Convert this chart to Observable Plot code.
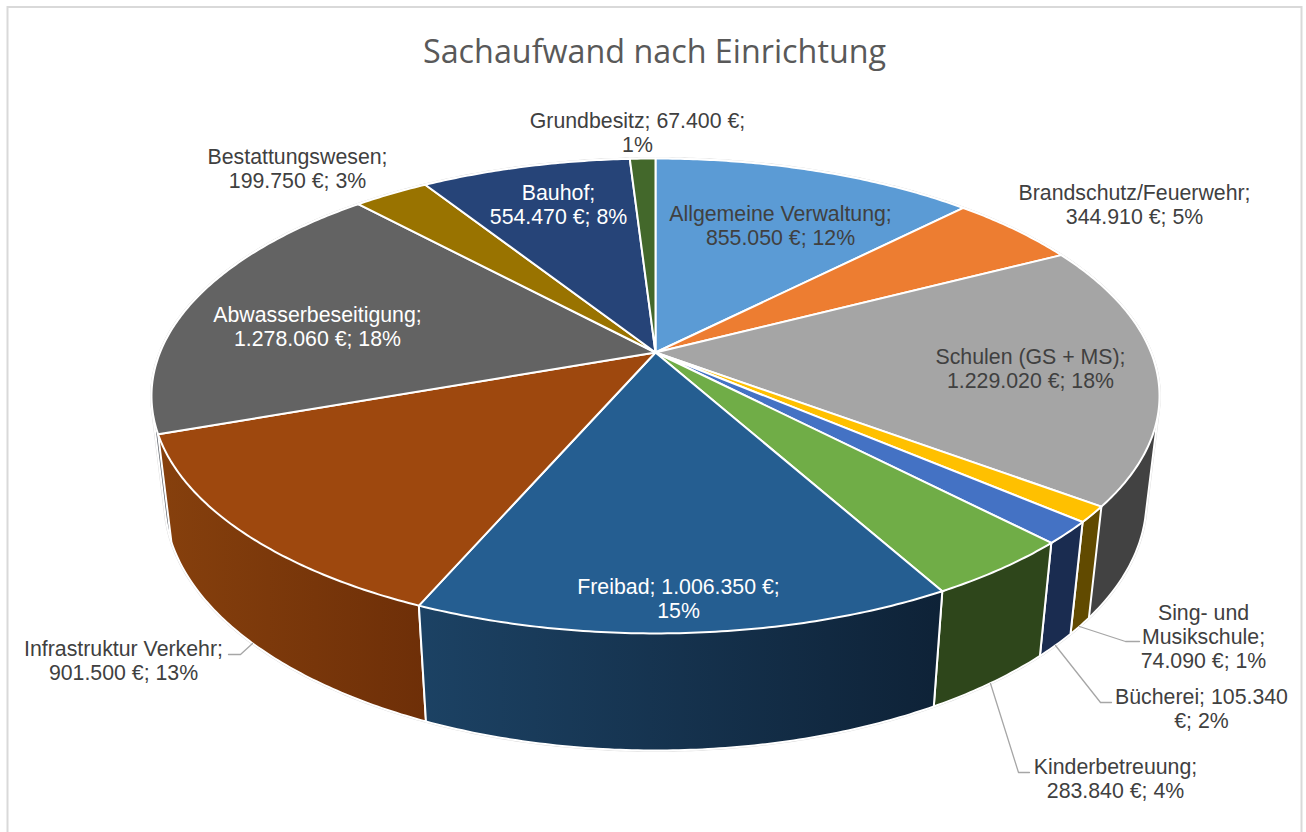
<!DOCTYPE html>
<html lang="de">
<head>
<meta charset="utf-8">
<title>Sachaufwand nach Einrichtung</title>
<script src="https://cdn.jsdelivr.net/npm/d3@7"></script>
<script src="https://cdn.jsdelivr.net/npm/@observablehq/plot@0.6"></script>
<style>
html,body{margin:0;padding:0;background:#fff;overflow:hidden}
svg{display:block}
</style>
</head>
<body>
<div id="chart"></div>
<script>
const titleText = "Sachaufwand nach Einrichtung";
const categories = ["Allgemeine Verwaltung","Brandschutz/Feuerwehr","Schulen (GS + MS)","Sing- und Musikschule","Bücherei","Kinderbetreuung","Freibad","Infrastruktur Verkehr","Abwasserbeseitigung","Bestattungswesen","Bauhof","Grundbesitz"];
const amounts = [855050,344910,1229020,74090,105340,283840,1006350,901500,1278060,199750,554470,67400];
const percents = [12,5,18,1,2,4,15,13,18,3,8,1];
const topColors = ["#5B9BD5","#ED7D31","#A5A5A5","#FFC000","#4472C4","#70AD47","#255E91","#9E480E","#636363","#997300","#264478","#43682B"];
const sideColorsStart = ["#375d80","#8e4b1d","#424242","#614a00","#1a2c50","#2e461b","#1c4264","#86400d","#5a5f66","#5c4500","#172948","#283e1a"];
const sideColorsEnd = ["#375d80","#8e4b1d","#424242","#614a00","#1a2c50","#2e461b","#0e2237","#6e2f08","#5a5f66","#5c4500","#172948","#283e1a"];

// label layout: line breaks, centre x, centre y, text colour
const labelText = [
  "Allgemeine Verwaltung;\n855.050 €; 12%",
  "Brandschutz/Feuerwehr;\n344.910 €; 5%",
  "Schulen (GS + MS);\n1.229.020 €; 18%",
  "Sing- und\nMusikschule;\n74.090 €; 1%",
  "Bücherei; 105.340\n€; 2%",
  "Kinderbetreuung;\n283.840 €; 4%",
  "Freibad; 1.006.350 €;\n15%",
  "Infrastruktur Verkehr;\n901.500 €; 13%",
  "Abwasserbeseitigung;\n1.278.060 €; 18%",
  "Bestattungswesen;\n199.750 €; 3%",
  "Bauhof;\n554.470 €; 8%",
  "Grundbesitz; 67.400 €;\n1%"
];
const labelX = [780,1134,1030,1203,1201,1115,678,123,317,297,558,637];
const labelY = [225,204,368,636,708,778,598,660,326,168,204,132];
const labelFill = ["#404040","#404040","#404040","#404040","#404040","#404040","#fff","#404040","#fff","#404040","#fff","#404040"];
const leaderPaths = [
  [[228,654],[240,654],[252,643]],
  [[1079,626],[1125,641],[1139,641]],
  [[1055,645],[1100,702],[1111,702]],
  [[990,683],[1018,772],[1029,772]]
];

const W = 1306, H = 832;
// perspective camera of the 3-D pie
const cam = {cx:655, cy:352, A:495.5, B:229.5, E:105.9, p:0.183, q:0.0257};
function project(theta, h, r = 1) {
  const s = Math.sin(theta) * r, c = Math.cos(theta) * r;
  const w = 1 + cam.p * c + cam.q * h;
  return {x: cam.cx + cam.A * s / w, y: cam.cy + (-cam.B * c + cam.E * h) / w};
}
const total = d3.sum(amounts);
let acc = 0;
const slices = categories.map((name, i) => {
  const a0 = acc / total * 2 * Math.PI;
  acc += amounts[i];
  const a1 = acc / total * 2 * Math.PI;
  return {name, i, a0, a1};
});
const arc = (s, h) => {
  const n = Math.max(2, Math.ceil((s.a1 - s.a0) / 0.01));
  return d3.range(n + 1).map(k => project(s.a0 + (s.a1 - s.a0) * k / n, h));
};
const hullOf = pts => d3.polygonHull(pts.map(p => [p.x, p.y])).map(([x, y]) => ({x, y}));
const topRows = slices.flatMap(s =>
  [project(0, 0, 0), ...arc(s, 0)].map(p => ({...p, id: s.name, fill: topColors[s.i]})));
const sideOrder = [0,1,11,10,9,8,2,3,4,5,7,6];
const sideRows = sideOrder.flatMap(i => {
  const s = slices[i];
  return hullOf([...arc(s, 0), ...arc(s, 1)]).map(p => ({...p, id: s.name, fill: `url(#side${i})`}));
});
const rimRows = hullOf(slices.flatMap(s => [...arc(s, 0), ...arc(s, 1)]));
const leaderRows = leaderPaths.flatMap((path, id) => path.map(([x, y]) => ({x, y, id})));
const labels = labelText.map((text, i) => ({text, x: labelX[i], y: labelY[i], fill: labelFill[i]}));

function gradients() {
  const defs = d3.create("svg:defs");
  categories.forEach((_, i) => {
    const g = defs.append("linearGradient").attr("id", `side${i}`)
      .attr("x1", 0).attr("x2", 1).attr("y1", 0).attr("y2", 0);
    g.append("stop").attr("offset", 0).attr("stop-color", sideColorsStart[i]);
    g.append("stop").attr("offset", 1).attr("stop-color", sideColorsEnd[i]);
  });
  return defs.node();
}

const chart = Plot.plot({
  width: W, height: H, margin: 0,
  x: {domain: [0, W], range: [0, W], axis: null},
  y: {domain: [0, H], range: [0, H], axis: null},
  style: {background: "#fff"},
  marks: [
    gradients,
    Plot.ruleY([6.5], {x1: 7, x2: 1301, stroke: "#d9d9d9", strokeWidth: 2}),
    Plot.ruleX([7], {y1: 6, y2: H, stroke: "#d9d9d9", strokeWidth: 2}),
    Plot.ruleX([1301], {y1: 6, y2: H, stroke: "#d9d9d9", strokeWidth: 2}),
    Plot.line(rimRows, {x: "x", y: "y", stroke: "#d6d6d6", strokeWidth: 2.6, curve: "linear-closed"}),
    Plot.line(sideRows, {x: "x", y: "y", z: "id", fill: "fill", stroke: "#fff", strokeWidth: 2, curve: "linear-closed", strokeLinejoin: "round"}),
    Plot.line(topRows, {x: "x", y: "y", z: "id", fill: "fill", stroke: "#fff", strokeWidth: 2, curve: "linear-closed", strokeLinejoin: "round"}),
    Plot.line(leaderRows, {x: "x", y: "y", z: "id", stroke: "#a6a6a6", strokeWidth: 1.3}),
    Plot.text(labels, {x: "x", y: "y", text: "text", fill: "fill", fontFamily: "Liberation Sans", fontSize: 21.3, lineHeight: 1.127, textAnchor: "middle", lineAnchor: "middle"}),
    Plot.text([titleText], {x: () => 654, y: () => 52, text: d => d, fill: "#595959", fontFamily: "Open Sans", fontSize: 32.3, textAnchor: "middle", lineAnchor: "middle"})
  ]
});
document.getElementById("chart").append(chart);
</script>
</body>
</html>
